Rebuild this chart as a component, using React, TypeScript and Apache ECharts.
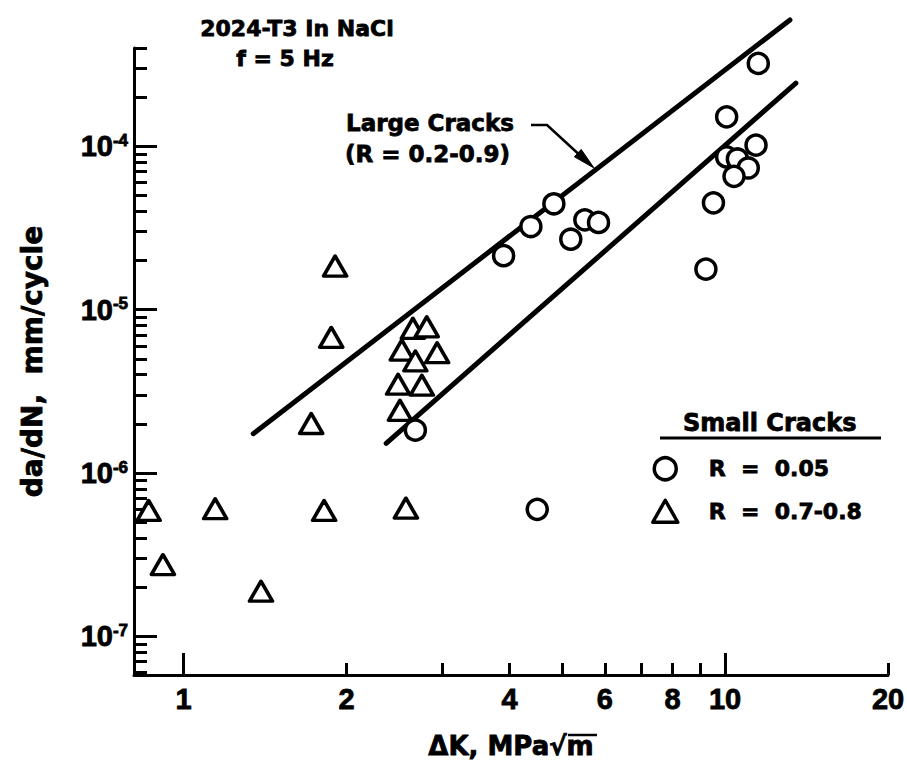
import React, { useEffect, useRef } from "react";
import * as echarts from "echarts";

// ---------------- data ----------------
// Small cracks, R = 0.05 (circles): ΔK [MPa√m], da/dN [mm/cycle]
const circleDeltaK = [11.52, 10.07, 11.41, 10.07, 10.54, 11.04, 10.39, 9.52, 9.22, 4.83, 4.38, 5.51, 5.84, 5.19, 3.9, 2.68, 4.5];
const circleRate = [3.22e-4, 1.515e-4, 1.017e-4, 8.61e-5, 8.37e-5, 7.37e-5, 6.55e-5, 4.51e-5, 1.77e-5, 4.45e-5, 3.23e-5, 3.55e-5, 3.42e-5, 2.7e-5, 2.14e-5, 1.83e-6, 5.99e-7];

// Small cracks, R = 0.7-0.8 (triangles)
const triangleDeltaK = [1.905, 1.874, 1.721, 2.652, 2.813, 2.53, 2.94, 2.68, 2.49, 2.755, 2.51, 0.862, 1.144, 1.818, 2.574, 0.916, 1.39];
const triangleRate = [1.85e-5, 6.77e-6, 2.01e-6, 7.69e-6, 7.86e-6, 5.66e-6, 5.45e-6, 4.86e-6, 3.5e-6, 3.45e-6, 2.42e-6, 5.9e-7, 6.05e-7, 5.9e-7, 6.1e-7, 2.75e-7, 1.89e-7];

// Large cracks band (R = 0.2-0.9)
const upperLineDeltaK = [1.345, 13.18];
const upperLineRate = [1.74e-6, 5.94e-4];
const lowerLineDeltaK = [2.367, 13.52];
const lowerLineRate = [1.52e-6, 2.44e-4];

// axes
const xLabelValues = [1, 2, 4, 6, 8, 10, 20];
const xMajorTickValues = [1, 10];
const xMinorTickValues = [2, 3, 4, 5, 6, 7, 8, 9, 20];
const yLabelValues = [1e-7, 1e-6, 1e-5, 1e-4];
const yMajorTickValues = [1e-7, 1e-6, 1e-5, 1e-4];
const yMinorMantissas = [2, 3, 4, 5, 6, 7, 8, 9];
const yMinorDecades = [-8, -7, -6, -5, -4];
const xMin = 0.81;
const xMax = 20;
const yMin = 5.8e-8;
const yMax = 4e-4;

const legendNames = ["R  =  0.05", "R  =  0.7-0.8"];

// ---------------- helpers ----------------
const L = (v: number) => Math.log10(v);
const toPoints = (ks: number[], rs: number[]) => ks.map((k, i) => [L(k), L(rs[i])]);

const NUM_FONT = '"Liberation Sans", Arial, sans-serif';
const WORD_FONT = '"DejaVu Sans", "Liberation Sans", sans-serif';
const BLACK = "#000";
const HEAVY = { textBorderColor: BLACK, textBorderWidth: 0.8 };
const HEAVY_G = { stroke: BLACK, lineWidth: 0.8 };

export default function App() {
  const ref = useRef<HTMLDivElement>(null);

  useEffect(() => {
    if (!ref.current) return;
    const chart = echarts.init(ref.current, undefined, { renderer: "svg" });

    const yMinorTickValues: number[] = [];
    yMinorDecades.forEach((d) =>
      yMinorMantissas.forEach((m) => {
        const v = Number((m * Math.pow(10, d)).toPrecision(6));
        if (v >= yMin && v <= yMax) yMinorTickValues.push(v);
      })
    );

    const xBase = {
      type: "value",
      gridIndex: 0,
      position: "bottom",
      min: L(xMin),
      max: L(xMax),
      splitLine: { show: false },
    };
    const yBase = {
      type: "value",
      gridIndex: 0,
      position: "left",
      min: L(yMin),
      max: L(yMax),
      splitLine: { show: false },
    };
    const tickLine = { color: BLACK, width: 3 };

    const option: any = {
      animation: false,
      backgroundColor: "#fff",
      grid: { left: 134, right: 19, top: 48, bottom: 91, outerBoundsMode: "none" },
      xAxis: [
        {
          ...xBase,
          name: "ΔK, MPa√m",
          nameLocation: "middle",
          nameGap: 58,
          nameTextStyle: { fontFamily: WORD_FONT, fontWeight: "bold", fontSize: 26, color: BLACK, ...HEAVY },
          axisLine: { show: true, onZero: false, lineStyle: { color: BLACK, width: 3 } },
          axisTick: { show: true, inside: true, length: 22, lineStyle: tickLine, customValues: xMajorTickValues.map(L) },
          axisLabel: {
            show: true,
            customValues: xLabelValues.map(L),
            formatter: (v: number) => String(Math.round(Math.pow(10, v))),
            fontFamily: NUM_FONT,
            fontWeight: "bold",
            fontSize: 29,
            color: BLACK,
            margin: 9,
            ...HEAVY,
          },
        },
        {
          ...xBase,
          axisLine: { show: false, onZero: false },
          axisTick: { show: true, inside: true, length: 12, lineStyle: tickLine, customValues: xMinorTickValues.map(L) },
          axisLabel: { show: false },
        },
      ],
      yAxis: [
        {
          ...yBase,
          name: "da/dN,  mm/cycle",
          nameLocation: "middle",
          nameGap: 88,
          nameRotate: 90,
          nameTextStyle: { fontFamily: WORD_FONT, fontWeight: "bold", fontSize: 28, color: BLACK, ...HEAVY },
          axisLine: { show: true, onZero: false, lineStyle: { color: BLACK, width: 3 } },
          axisTick: { show: true, inside: true, length: 23, lineStyle: tickLine, customValues: yMajorTickValues.map(L) },
          axisLabel: {
            show: true,
            customValues: yLabelValues.map(L),
            formatter: (v: number) => `{a|10}{b|${Math.round(v)}}`,
            margin: 6,
            rich: {
              a: { fontFamily: NUM_FONT, fontWeight: "bold", fontSize: 29, color: BLACK, ...HEAVY },
              b: { fontFamily: NUM_FONT, fontWeight: "bold", fontSize: 17, color: BLACK, verticalAlign: "top", ...HEAVY },
            },
          },
        },
        {
          ...yBase,
          axisLine: { show: false, onZero: false },
          axisTick: { show: true, inside: true, length: 13, lineStyle: tickLine, customValues: yMinorTickValues.map(L) },
          axisLabel: { show: false },
        },
      ],
      legend: {
        data: legendNames,
        orient: "vertical",
        left: 646,
        top: 451,
        itemWidth: 25,
        itemHeight: 22,
        itemGap: 17,
        selectedMode: false,
        itemStyle: { borderWidth: 3.5 },
        textStyle: {
          fontFamily: WORD_FONT,
          fontWeight: "bold",
          fontSize: 22,
          color: BLACK,
          padding: [0, 0, 0, 26],
          ...HEAVY,
        },
      },
      series: [
        {
          type: "line",
          name: "Large Cracks upper",
          data: toPoints(upperLineDeltaK, upperLineRate),
          symbol: "none",
          clip: false,
          silent: true,
          z: 2,
          lineStyle: { color: BLACK, width: 5, cap: "round" },
        },
        {
          type: "line",
          name: "Large Cracks lower",
          data: toPoints(lowerLineDeltaK, lowerLineRate),
          symbol: "none",
          clip: false,
          silent: true,
          z: 2,
          lineStyle: { color: BLACK, width: 5, cap: "round" },
        },
        {
          type: "scatter",
          name: legendNames[0],
          data: toPoints(circleDeltaK, circleRate),
          symbol: "circle",
          symbolSize: 20,
          z: 4,
          itemStyle: { color: "#fff", borderColor: BLACK, borderWidth: 3.5, opacity: 1 },
        },
        {
          type: "scatter",
          name: legendNames[1],
          data: toPoints(triangleDeltaK, triangleRate),
          symbol: "triangle",
          symbolSize: [23, 20],
          z: 4,
          itemStyle: { color: "#fff", borderColor: BLACK, borderWidth: 3.5, borderJoin: "round", opacity: 1 },
        },
      ],
      graphic: [
        {
          type: "text",
          x: 297,
          y: 28,
          style: { text: "2024-T3 In NaCl", fontFamily: WORD_FONT, fontWeight: "bold", fontSize: 22, fill: BLACK, align: "center", verticalAlign: "middle", ...HEAVY_G },
        },
        {
          type: "text",
          x: 285,
          y: 58,
          style: { text: "f = 5 Hz", fontFamily: WORD_FONT, fontWeight: "bold", fontSize: 22, fill: BLACK, align: "center", verticalAlign: "middle", ...HEAVY_G },
        },
        {
          type: "text",
          x: 346,
          y: 123,
          style: { text: "Large Cracks", fontFamily: WORD_FONT, fontWeight: "bold", fontSize: 23, fill: BLACK, align: "left", verticalAlign: "middle", ...HEAVY_G },
        },
        {
          type: "text",
          x: 345,
          y: 154,
          style: { text: "(R = 0.2-0.9)", fontFamily: WORD_FONT, fontWeight: "bold", fontSize: 23, fill: BLACK, align: "left", verticalAlign: "middle", ...HEAVY_G },
        },
        {
          type: "polyline",
          shape: { points: [[531, 125], [547, 125], [584, 159]] },
          style: { stroke: BLACK, lineWidth: 2.5, fill: null },
          z: 10,
        },
        {
          type: "polygon",
          shape: { points: [[594, 168], [574.4, 156.8], [581.2, 149.4]] },
          style: { fill: BLACK, stroke: BLACK, lineWidth: 1 },
          z: 10,
        },
        {
          type: "text",
          x: 683,
          y: 423,
          style: { text: "Small Cracks", fontFamily: WORD_FONT, fontWeight: "bold", fontSize: 24, fill: BLACK, align: "left", verticalAlign: "middle", ...HEAVY_G },
        },
        {
          type: "line",
          shape: { x1: 660, y1: 438, x2: 881, y2: 438 },
          style: { stroke: BLACK, lineWidth: 3 },
        },
        {
          type: "line",
          shape: { x1: 568, y1: 735, x2: 597, y2: 735 },
          style: { stroke: BLACK, lineWidth: 2.5 },
        },
      ],
    };

    chart.setOption(option);
    return () => chart.dispose();
  }, []);

  return (
    <div
      ref={ref}
      style={{ position: "fixed", left: 0, top: 0, width: 907, height: 766, background: "#fff" }}
    />
  );
}
